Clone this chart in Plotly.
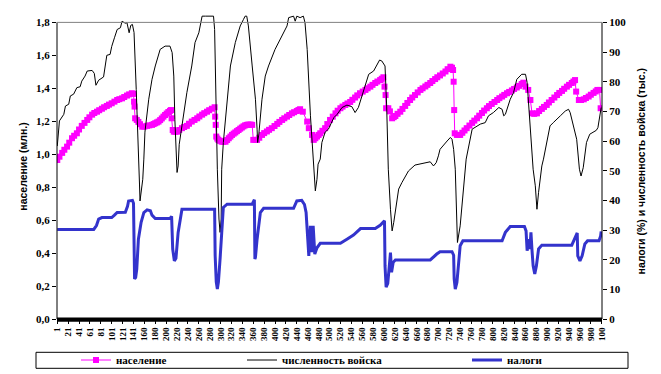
import plotly.graph_objects as go

# ---------------- data ----------------
# x = category index (1..1001); tick labels shown every 20 categories
tick_index = [1, 21, 41, 61, 81, 101, 121, 141] + list(range(161, 1002, 20))
tick_text = ["1", "21", "41", "61", "81", "101", "121", "141"] + \
    [str(v) for v in range(160, 1000, 20)] + ["100"]

left_ticks = [0, 0.2, 0.4, 0.6, 0.8, 1.0, 1.2, 1.4, 1.6, 1.8]
left_labels = ["0,0", "0,2", "0,4", "0,6", "0,8", "1,0", "1,2", "1,4", "1,6", "1,8"]
right_ticks = [0, 10, 20, 30, 40, 50, 60, 70, 80, 90, 100]

# population (millions, left axis)
pop_x = [1, 5, 10, 14, 19, 23, 28, 32, 37, 41, 46, 51, 56, 60, 65, 69, 74, 78, 83, 87, 92, 96,
         101, 106, 111, 115, 120, 124, 129, 133, 138, 141, 142, 143, 144, 147, 150, 153, 157, 161,
         166, 170, 175, 178, 181, 184, 187, 190, 193, 196, 199, 202, 205, 208, 210, 211, 213, 215,
         218, 221, 225, 230, 234, 239, 243, 248, 253, 258, 262, 267, 271, 276, 280, 285, 290, 291,
         292, 293, 295, 297, 300, 303, 306, 310, 313, 316, 319, 322, 325, 328, 331, 334, 337, 340,
         343, 346, 349, 352, 356, 359, 361, 365, 368, 372, 377, 381, 386, 390, 395, 400, 405, 409,
         414, 418, 423, 427, 432, 436, 441, 444, 447, 452, 460, 463, 469, 472, 475, 478, 481, 484,
         488, 493, 497, 502, 507, 512, 516, 521, 525, 530, 534, 539, 543, 548, 552, 557, 562, 567,
         571, 576, 580, 585, 589, 594, 597, 600, 602, 604, 605, 609, 612, 616, 619, 622, 626, 631,
         635, 640, 644, 649, 653, 658, 663, 668, 672, 677, 681, 686, 690, 695, 699, 704, 709, 714,
         718, 723, 726, 728, 729, 730, 731, 735, 738, 741, 745, 749, 753, 758, 763, 767, 772, 776,
         781, 785, 790, 794, 799, 804, 809, 813, 818, 822, 827, 831, 836, 840, 845, 849, 854, 857,
         861, 866, 870, 873, 877, 882, 886, 891, 895, 900, 904, 909, 914, 919, 923, 928, 932, 937,
         941, 946, 949, 952, 954, 959, 963, 968, 972, 977, 981, 986, 990, 993, 997, 999]
pop_y = [0.965, 0.985, 1.008, 1.027, 1.046, 1.07, 1.097, 1.112, 1.127, 1.15, 1.172, 1.19, 1.208,
         1.224, 1.24, 1.25, 1.258, 1.267, 1.276, 1.285, 1.293, 1.301, 1.309, 1.319, 1.329, 1.334,
         1.339, 1.347, 1.356, 1.363, 1.37, 1.366, 1.319, 1.289, 1.218, 1.208, 1.196, 1.182, 1.167,
         1.168, 1.172, 1.175, 1.178, 1.183, 1.188, 1.193, 1.198, 1.207, 1.217, 1.228, 1.238, 1.247,
         1.256, 1.263, 1.268, 1.218, 1.147, 1.137, 1.136, 1.137, 1.147, 1.158, 1.165, 1.172, 1.185,
         1.198, 1.208, 1.218, 1.229, 1.24, 1.249, 1.258, 1.267, 1.276, 1.285, 1.228, 1.178, 1.107,
         1.095, 1.087, 1.081, 1.076, 1.075, 1.076, 1.086, 1.097, 1.107, 1.117, 1.125, 1.132, 1.14,
         1.147, 1.155, 1.162, 1.169, 1.175, 1.178, 1.18, 1.18, 1.178, 1.087, 1.087, 1.087, 1.1,
         1.117, 1.128, 1.138, 1.148, 1.158, 1.171, 1.184, 1.196, 1.208, 1.218, 1.228, 1.238, 1.248,
         1.255, 1.262, 1.268, 1.273, 1.258, 1.198, 1.158, 1.117, 1.087, 1.097, 1.107, 1.117, 1.127,
         1.142, 1.158, 1.183, 1.208, 1.228, 1.248, 1.264, 1.279, 1.289, 1.299, 1.308, 1.317, 1.33,
         1.344, 1.357, 1.37, 1.38, 1.39, 1.4, 1.41, 1.421, 1.432, 1.441, 1.45, 1.458, 1.467, 1.41,
         1.359, 1.279, 1.279, 1.26, 1.218, 1.225, 1.232, 1.245, 1.258, 1.275, 1.293, 1.311, 1.329,
         1.344, 1.359, 1.375, 1.39, 1.4, 1.411, 1.421, 1.432, 1.444, 1.456, 1.467, 1.478, 1.49,
         1.502, 1.516, 1.531, 1.525, 1.511, 1.44, 1.268, 1.127, 1.117, 1.117, 1.117, 1.13, 1.144,
         1.158, 1.174, 1.19, 1.204, 1.218, 1.234, 1.25, 1.265, 1.279, 1.292, 1.305, 1.317, 1.329,
         1.34, 1.35, 1.36, 1.37, 1.378, 1.387, 1.396, 1.405, 1.415, 1.426, 1.434, 1.41, 1.39, 1.329,
         1.248, 1.245, 1.248, 1.262, 1.275, 1.287, 1.299, 1.314, 1.329, 1.344, 1.359, 1.372, 1.384,
         1.397, 1.41, 1.421, 1.432, 1.441, 1.45, 1.38, 1.329, 1.329, 1.333, 1.341, 1.35, 1.361,
         1.372, 1.381, 1.39, 1.39, 1.279]

# army size (thousands, right axis)
army_x = [1, 5, 13, 16, 22, 25, 31, 37, 43, 46, 52, 56, 65, 69, 72, 77, 86, 89, 92, 98, 101, 106,
          111, 117, 120, 126, 129, 133, 136, 139, 142, 146, 149, 152, 153, 155, 158, 160, 161, 162,
          169, 175, 181, 190, 199, 208, 212, 215, 217, 220, 221, 223, 225, 230, 239, 248, 254, 261,
          265, 267, 273, 282, 288, 290, 292, 295, 298, 300, 302, 303, 306, 313, 319, 328, 337, 343,
          346, 349, 352, 359, 365, 368, 369, 371, 377, 383, 389, 401, 414, 423, 426, 435, 438, 441,
          447, 453, 456, 460, 466, 472, 475, 478, 480, 484, 487, 493, 499, 509, 515, 524, 533, 542,
          548, 554, 564, 573, 582, 587, 593, 597, 603, 606, 609, 613, 616, 619, 628, 634, 640, 646,
          658, 677, 686, 692, 697, 701, 704, 717, 723, 726, 729, 732, 734, 736, 741, 747, 752, 763,
          772, 778, 787, 793, 802, 812, 818, 821, 824, 833, 839, 845, 854, 861, 864, 867, 870, 875,
          879, 882, 885, 891, 894, 903, 906, 912, 919, 925, 934, 940, 943, 949, 955, 960, 963, 967,
          973, 979, 985, 991, 994, 997, 1000]
army_y = [58.3, 66.8, 69, 71.8, 72.4, 75.2, 75.8, 78, 78.3, 80.2, 81.9, 83.6, 83.8, 82.8, 78.8,
          80.5, 81.6, 85.3, 88.9, 89.2, 91.9, 94.8, 97.6, 98.2, 100.4, 99.7, 99.9, 96.5, 99, 99.3,
          96.6, 77.4, 57.2, 45.5, 39.8, 42.1, 47.1, 53.9, 57.2, 63, 74.1, 80.8, 85.3, 90.9, 92, 92,
          89.8, 81.9, 67.3, 53.9, 49.4, 51.6, 58.9, 65.1, 76.3, 85.3, 93.2, 96.5, 100.9, 102.1,
          102.1, 102.1, 102.1, 97.6, 74.1, 50.5, 33.7, 29.2, 33.7, 50.5, 59.5, 74.1, 85.3, 93.2,
          98.8, 101, 102.1, 102.1, 98.8, 85.3, 74.1, 64, 59.5, 62, 74.1, 81.9, 85.3, 90.9, 95.4,
          98.8, 101.6, 102.1, 100.4, 102.1, 101.6, 102.1, 99.9, 90.9, 68.5, 50.5, 43.2, 47.1, 52.2,
          53.9, 59.5, 63, 64, 67.9, 69, 71.3, 72.1, 71.6, 69.6, 71.3, 77.4, 82.5, 83.6, 85.3, 87.3,
          87, 85.3, 71.8, 50.5, 37, 29.7, 32.6, 43.8, 46, 48.2, 49.9, 51.9, 52.8, 53, 51.6, 52.7,
          55, 57.2, 60, 61.2, 60.6, 57.2, 50.5, 39.4, 25.8, 31.4, 42.7, 53.9, 64, 65.1, 65.7, 66.2,
          68.5, 69.6, 71.3, 70.7, 68.5, 69, 74.1, 76.3, 80.8, 82.5, 82.5, 79.7, 70.7, 62.9, 50.5,
          44.9, 37, 42.7, 51.6, 53.9, 62.9, 65.1, 66.2, 67.3, 68.5, 70.1, 70.7, 69.6, 65.1, 60.6,
          50.5, 48.2, 51, 59.5, 62.3, 62.9, 63.6, 64.5, 67.8, 71.3]

# taxes (%, right axis)
tax_x = [1, 68, 73, 77, 83, 101, 106, 111, 126, 130, 132, 139, 141, 142, 143, 145, 147, 150, 155,
         160, 166, 172, 175, 181, 208, 211, 213, 216, 219, 223, 226, 230, 242, 285, 290, 291, 293,
         295, 297, 300, 303, 306, 313, 359, 363, 364, 365, 368, 371, 374, 380, 435, 441, 450, 455,
         458, 463, 466, 469, 471, 474, 478, 484, 521, 533, 545, 558, 585, 594, 602, 603, 605, 608,
         611, 613, 615, 618, 622, 686, 698, 704, 726, 729, 730, 732, 735, 738, 741, 746, 818, 824,
         833, 859, 862, 864, 867, 869, 871, 873, 875, 878, 881, 885, 891, 946, 951, 956, 957, 961,
         965, 970, 975, 996, 999, 1000]
tax_y = [30.2, 30.2, 31.5, 33.7, 34.2, 34.2, 35, 35.9, 36, 38, 39.8, 40, 39, 27.5, 13.5, 14, 16.8,
         26.9, 32.6, 35.9, 36.8, 36.5, 35, 33.9, 33.9, 34.6, 23.6, 19.6, 20.5, 29.2, 33, 37, 37,
         36.9, 37, 21.3, 12.5, 10.1, 12.5, 20.2, 31.4, 37.6, 38.7, 38.7, 40.2, 20.2, 20.8, 26.9,
         31.4, 35.9, 37.3, 37.3, 39.8, 40, 38.6, 35.9, 21.3, 31.4, 22.5, 31.4, 21.9, 24, 25.5, 25.5,
         26.9, 28.3, 30.5, 30.5, 31.6, 33.1, 17.9, 10.7, 12, 17.9, 22.4, 15.8, 19.1, 19.9, 19.9,
         21.9, 22.7, 22.7, 21.5, 13.5, 10.1, 12.3, 19.6, 24.7, 26.4, 26.4, 29.2, 31.2, 31.2, 29.7,
         23, 26.9, 23.6, 29.2, 23, 17.9, 15.2, 17.9, 23.6, 24.9, 24.9, 26.9, 29, 21.3, 19.6, 21.3,
         25.3, 26.4, 26.4, 28, 29.5]

names = ["население", "численность войска", "налоги"]

# ---------------- figure ----------------
W, H = 661, 374
ML, MR, MT, MB = 57, 59, 12, 55
PW, PH = W - ML - MR, H - MT - MB
Y1_TOP = 1.863
Y2_TOP = Y1_TOP * 100 / 1.8


def px_x(p):
    return (p - ML) / PW


def px_y(p):
    return (H - MB - p) / PH


serif = "Liberation Serif, Times New Roman, serif"
sans = "Liberation Sans, Arial, sans-serif"

fig = go.Figure()
fig.add_trace(go.Scatter(
    x=pop_x, y=pop_y, name=names[0], mode="lines+markers",
    line=dict(color="#FF00FF", width=1),
    marker=dict(symbol="square", size=6, color="#FF00FF"),
    legend="legend"))
fig.add_trace(go.Scatter(
    x=army_x, y=army_y, name=names[1], mode="lines", yaxis="y2",
    line=dict(color="black", width=1), legend="legend2"))
fig.add_trace(go.Scatter(
    x=tax_x, y=tax_y, name=names[2], mode="lines", yaxis="y2",
    line=dict(color="#3333CC", width=3), legend="legend3"))

legend_common = dict(orientation="h", yanchor="middle", y=px_y(360), xanchor="left",
                     bgcolor="rgba(0,0,0,0)", borderwidth=0, itemwidth=30,
                     font=dict(family=serif, size=11, color="black", weight="bold"))

fig.update_layout(
    width=W, height=H, autosize=False,
    margin=dict(l=ML, r=MR, t=MT, b=MB, pad=0, autoexpand=False),
    paper_bgcolor="white", plot_bgcolor="white",
    xaxis=dict(range=[0.5, 1001.5], tickmode="array", tickvals=tick_index, ticktext=tick_text,
               tickangle=-90, ticks="outside", ticklen=4, tickcolor="black", automargin=False,
               showline=True, linecolor="black", linewidth=1, showgrid=False, zeroline=False,
               tickfont=dict(family=serif, size=9, color="black", weight="bold")),
    yaxis=dict(range=[0, Y1_TOP], tickmode="array", tickvals=left_ticks, ticktext=left_labels,
               ticks="outside", ticklen=4, tickcolor="black", showline=False, showgrid=False,
               zeroline=False, automargin=False,
               tickfont=dict(family=serif, size=11, color="black", weight="bold")),
    yaxis2=dict(range=[0, Y2_TOP], overlaying="y", side="right", tickmode="array",
                tickvals=right_ticks, ticks="outside", ticklen=4, tickcolor="black",
                showline=False, showgrid=False, zeroline=False, automargin=False,
                tickfont=dict(family=serif, size=11, color="black", weight="bold")),
    legend=dict(x=px_x(76), **legend_common),
    legend2=dict(x=px_x(242), **legend_common),
    legend3=dict(x=px_x(467), **legend_common),
    showlegend=True,
)

shapes = [
    dict(type="line", xref="paper", yref="y", x0=0, x1=0, y0=0, y1=1.8,
         line=dict(color="black", width=1)),
    dict(type="line", xref="paper", yref="y", x0=1, x1=1, y0=0, y1=1.8,
         line=dict(color="black", width=1)),
    dict(type="line", xref="paper", yref="y", x0=0, x1=1, y0=1.8, y1=1.8,
         line=dict(color="#808080", width=1)),
    dict(type="rect", xref="paper", yref="paper", x0=0, x1=1,
         y0=px_y(321.7), y1=px_y(317.6), fillcolor="black", line=dict(width=0)),
    dict(type="rect", xref="paper", yref="paper", x0=px_x(36), x1=px_x(628),
         y0=px_y(368.3), y1=px_y(352.3), line=dict(color="black", width=1),
         fillcolor="rgba(0,0,0,0)"),
]
fig.update_layout(shapes=shapes)

fig.add_annotation(text="население (млн.)", xref="paper", yref="paper",
                   x=px_x(22.7), y=px_y(167), textangle=-90, showarrow=False,
                   xanchor="center", yanchor="middle",
                   font=dict(family=sans, size=10.5, color="black", weight="bold"))
fig.add_annotation(text="налоги (%) и численность войска (тыс.)", xref="paper", yref="paper",
                   x=px_x(640.7), y=px_y(171.7), textangle=-90, showarrow=False,
                   xanchor="center", yanchor="middle",
                   font=dict(family=sans, size=10.5, color="black", weight="bold"))

fig.write_html("out.html", config={"displayModeBar": False},
               post_script="document.body.style.margin='0';document.body.style.overflow='hidden';")
